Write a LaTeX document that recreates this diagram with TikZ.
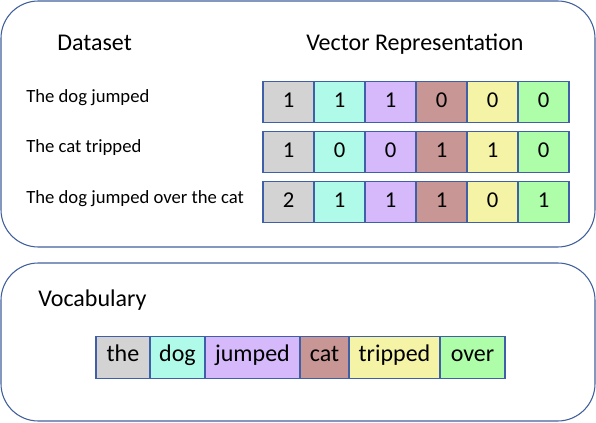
\documentclass[tikz,border=0pt]{standalone}
\usepackage{fontspec}
\setmainfont{Carlito}
\usetikzlibrary{positioning}

\definecolor{boxline}{HTML}{41609C}
\definecolor{cellline}{HTML}{3F5FA8}
\definecolor{cthe}{HTML}{D3D3D3}
\definecolor{cdog}{HTML}{B0FAEA}
\definecolor{cjumped}{HTML}{D5B9FB}
\definecolor{ccat}{HTML}{C89694}
\definecolor{ctripped}{HTML}{F5F3A6}
\definecolor{cover}{HTML}{ADFDA9}

\begin{document}
\begin{tikzpicture}[x=0.75pt, y=-0.75pt,
  panel/.style={draw=boxline, line width=0.8pt, rounded corners=28pt},
  title/.style={anchor=west, inner sep=0pt, font=\fontsize{18}{20}\selectfont},
  sentence/.style={anchor=west, inner sep=0pt, font=\fontsize{14}{16}\selectfont},
  cell/.style={draw=cellline, line width=0.9pt, inner sep=0pt, outer sep=0pt,
    minimum width=38.25pt, minimum height=31pt, text height=1.6ex, text depth=0pt,
    font=\fontsize{17}{19}\selectfont},
  word/.style={draw=cellline, line width=0.9pt, inner sep=0pt, outer sep=0pt,
    minimum height=31pt, text height=1.5ex, text depth=0.1ex,
    font=\fontsize{18}{20}\selectfont}]

\useasboundingbox (0,0) rectangle (596,423);

%%%%%%%%%%%% Dataset
  \draw[panel] (1,1) rectangle (595,247);
  \node[title] (dataset) at (57,43) {Dataset};
  \node[title] (vecrep) at (306,44) {Vector Representation};

  \foreach \sent / \j / \y in {The dog jumped/1/98, The cat tripped/2/148,
                                The dog jumped over the cat/3/199}
    \node[sentence] (sent\j) at (26,\y) {\sent};

  \foreach \j / \vals in {1/{1,1,1,0,0,0}, 2/{1,0,0,1,1,0}, 3/{2,1,1,1,0,1}}
    \foreach \v [count=\i] in \vals {
      \ifcase\i\or\def\col{cthe}\or\def\col{cdog}\or\def\col{cjumped}%
        \or\def\col{ccat}\or\def\col{ctripped}\or\def\col{cover}\fi
      \node[cell, fill=\col] (v\j c\i) at (263+51*\i-25.5, 52+50*\j) {\v};
    }

%%%%%%%%%%%% Vocabulary
  \draw[panel] (1,263) rectangle (595,421);
  \node[title] (vocab) at (38,300) {Vocabulary};

  \node[word, fill=cthe, minimum width=40.5pt, anchor=west] (wthe) at (96,357.5) {the};
  \node[word, fill=cdog, minimum width=41.25pt, right=0pt of wthe] (wdog) {dog};
  \node[word, fill=cjumped, minimum width=71.25pt, right=0pt of wdog] (wjumped) {jumped};
  \node[word, fill=ccat, minimum width=36.75pt, right=0pt of wjumped] (wcat) {cat};
  \node[word, fill=ctripped, minimum width=68.25pt, right=0pt of wcat] (wtripped) {tripped};
  \node[word, fill=cover, minimum width=48.75pt, right=0pt of wtripped] (wover) {over};
\end{tikzpicture}
\end{document}
